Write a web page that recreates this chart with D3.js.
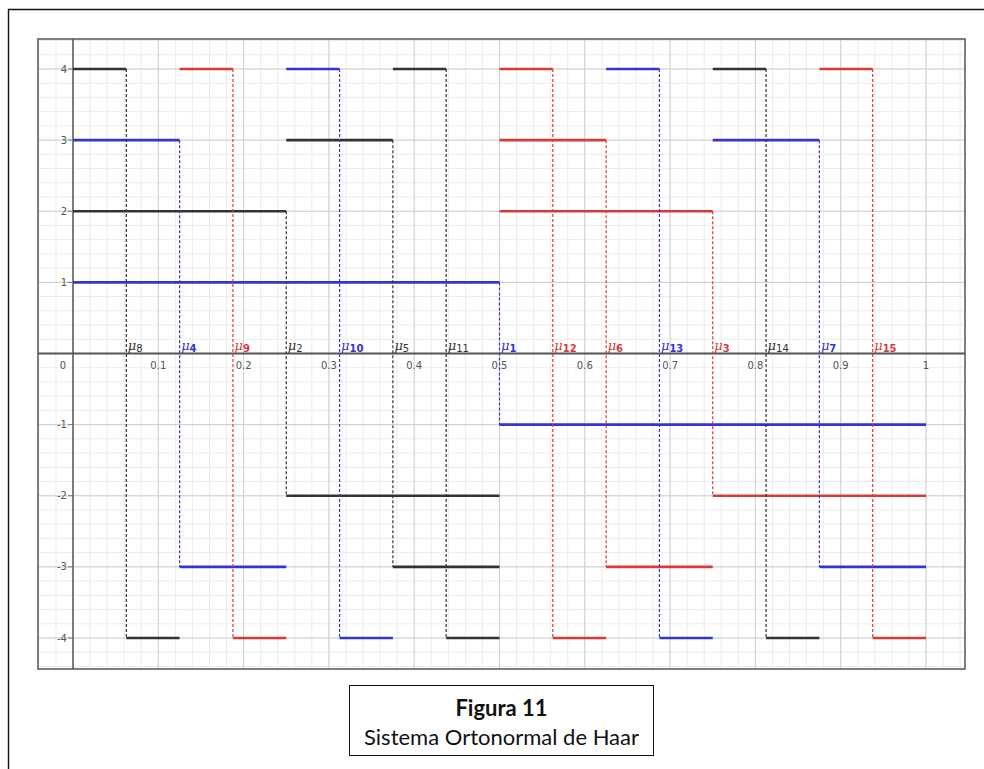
<!DOCTYPE html>
<html>
<head>
<meta charset="utf-8">
<script src="https://cdn.jsdelivr.net/npm/d3@7"></script>
<style>
  body { margin: 0; background: #fff; }
  svg { display: block; }
</style>
</head>
<body>
<svg id="chart" width="984" height="769"></svg>
<script>
/* Datos: funciones de Haar (indice, inicio, salto, fin, altura) */
const indices = [1, 2, 3, 4, 5, 6, 7, 8, 9, 10, 11, 12, 13, 14, 15];
const starts  = [0, 0, 0.5, 0, 0.25, 0.5, 0.75, 0, 0.125, 0.25, 0.375, 0.5, 0.625, 0.75, 0.875];
const jumps   = [0.5, 0.25, 0.75, 0.125, 0.375, 0.625, 0.875, 0.0625, 0.1875, 0.3125, 0.4375, 0.5625, 0.6875, 0.8125, 0.9375];
const ends    = [1, 0.5, 1, 0.25, 0.5, 0.75, 1, 0.125, 0.25, 0.375, 0.5, 0.625, 0.75, 0.875, 1];
const heights = [1, 2, 2, 3, 3, 3, 3, 4, 4, 4, 4, 4, 4, 4, 4];

const xTicks = [0, 0.1, 0.2, 0.3, 0.4, 0.5, 0.6, 0.7, 0.8, 0.9, 1];
const xTickLabels = ["0", "0.1", "0.2", "0.3", "0.4", "0.5", "0.6", "0.7", "0.8", "0.9", "1"];
const yTicks = [-4, -3, -2, -1, 1, 2, 3, 4];

// colores segun n mod 3
const palette = { 0: "#d83a3a", 1: "#3535cc", 2: "#333333" };

/* Tamaños */
const frame = { left: 38, top: 39, right: 965, bottom: 669 };

const x = d3.scaleLinear().domain([0, 1]).range([73, 926]);
const y = d3.scaleLinear().domain([-4, 4]).range([638, 69]);

const svg = d3.select("#chart");

// marco exterior
svg.append("path")
    .attr("d", "M8.5,769 L8.5,9.5 L984,9.5")
    .attr("fill", "none")
    .attr("stroke", "#111")
    .attr("stroke-width", 1.4);

const plot = svg.append("g");

plot.append("clipPath").attr("id", "clip")
    .append("rect")
    .attr("x", frame.left).attr("y", frame.top)
    .attr("width", frame.right - frame.left)
    .attr("height", frame.bottom - frame.top);

const grid = plot.append("g").attr("clip-path", "url(#clip)");

// grilla menor
const x0 = x.invert(frame.left), x1 = x.invert(frame.right);
const y0 = y.invert(frame.bottom), y1 = y.invert(frame.top);
const minorX = d3.range(Math.ceil(x0 / 0.02), Math.floor(x1 / 0.02) + 1).map(i => i * 0.02);
const minorY = d3.range(Math.ceil(y0 / 0.2), Math.floor(y1 / 0.2) + 1).map(i => i * 0.2);

grid.selectAll(".minx").data(minorX).enter().append("line")
    .attr("x1", d => x(d)).attr("x2", d => x(d))
    .attr("y1", frame.top).attr("y2", frame.bottom)
    .attr("stroke", "#ececec").attr("stroke-width", 1);
grid.selectAll(".miny").data(minorY).enter().append("line")
    .attr("y1", d => y(d)).attr("y2", d => y(d))
    .attr("x1", frame.left).attr("x2", frame.right)
    .attr("stroke", "#ececec").attr("stroke-width", 1);

// grilla mayor
grid.selectAll(".majx").data(xTicks.slice(1)).enter().append("line")
    .attr("x1", d => x(d)).attr("x2", d => x(d))
    .attr("y1", frame.top).attr("y2", frame.bottom)
    .attr("stroke", "#cfcfcf").attr("stroke-width", 1);
grid.selectAll(".majy").data(yTicks).enter().append("line")
    .attr("y1", d => y(d)).attr("y2", d => y(d))
    .attr("x1", frame.left).attr("x2", frame.right)
    .attr("stroke", "#cfcfcf").attr("stroke-width", 1);

// ejes
plot.append("line")
    .attr("x1", frame.left).attr("x2", frame.right)
    .attr("y1", y(0)).attr("y2", y(0))
    .attr("stroke", "#555").attr("stroke-width", 2);
plot.append("line")
    .attr("x1", x(0)).attr("x2", x(0))
    .attr("y1", frame.top).attr("y2", frame.bottom)
    .attr("stroke", "#555").attr("stroke-width", 1.5);

// ticks del eje y
plot.selectAll(".ytick").data(yTicks).enter().append("line")
    .attr("x1", x(0) - 5).attr("x2", x(0))
    .attr("y1", d => y(d)).attr("y2", d => y(d))
    .attr("stroke", "#777").attr("stroke-width", 1);

// etiquetas
plot.selectAll(".xlab").data(xTicks).enter().append("text")
    .attr("x", (d, i) => i === 0 ? x(d) - 10 : x(d))
    .attr("y", y(0) + 15)
    .attr("text-anchor", "middle")
    .attr("font-family", "DejaVu Sans, sans-serif")
    .attr("font-size", 10)
    .attr("fill", "#555")
    .text((d, i) => xTickLabels[i]);

plot.selectAll(".ylab").data(yTicks).enter().append("text")
    .attr("x", x(0) - 6)
    .attr("y", d => y(d) + 3.5)
    .attr("text-anchor", "end")
    .attr("font-family", "DejaVu Sans, sans-serif")
    .attr("font-size", 10)
    .attr("fill", "#555")
    .text(d => d);

// funciones de Haar
const haar = indices.map((n, i) => ({
    n, start: starts[i], jump: jumps[i], end: ends[i], h: heights[i],
    color: palette[n % 3]
}));

const fn = plot.append("g").selectAll("g").data(haar).enter().append("g");

fn.append("line")
    .attr("x1", d => x(d.jump)).attr("x2", d => x(d.jump))
    .attr("y1", d => y(d.h)).attr("y2", d => y(-d.h))
    .attr("stroke", d => d.color)
    .attr("stroke-width", 1.2)
    .attr("stroke-dasharray", "3,2");

fn.append("line")
    .attr("x1", d => x(d.start)).attr("x2", d => x(d.jump))
    .attr("y1", d => y(d.h)).attr("y2", d => y(d.h))
    .attr("stroke", d => d.color).attr("stroke-width", 2.6);

fn.append("line")
    .attr("x1", d => x(d.jump)).attr("x2", d => x(d.end))
    .attr("y1", d => y(-d.h)).attr("y2", d => y(-d.h))
    .attr("stroke", d => d.color).attr("stroke-width", 2.6);

const lab = fn.append("text")
    .attr("x", d => x(d.jump) + 1.5)
    .attr("y", y(0) - 4)
    .attr("font-family", "DejaVu Serif, serif")
    .attr("fill", d => d.color);
lab.append("tspan")
    .attr("font-style", "italic")
    .attr("font-size", 13)
    .text("μ");
lab.append("tspan")
    .attr("font-family", "DejaVu Sans, sans-serif")
    .attr("font-size", 10)
    .attr("font-weight", d => d.n % 3 === 2 ? "normal" : "bold")
    .attr("dy", 2)
    .text(d => d.n);

// marco del grafico
plot.append("rect")
    .attr("x", frame.left).attr("y", frame.top)
    .attr("width", frame.right - frame.left)
    .attr("height", frame.bottom - frame.top)
    .attr("fill", "none")
    .attr("stroke", "#555").attr("stroke-width", 1.5);

// leyenda de la figura
const cap = svg.append("g");
cap.append("rect")
    .attr("x", 349.5).attr("y", 685.5)
    .attr("width", 304).attr("height", 70)
    .attr("fill", "#fff").attr("stroke", "#111").attr("stroke-width", 1);
cap.append("text")
    .attr("x", 501.5).attr("y", 716)
    .attr("text-anchor", "middle")
    .attr("font-family", "Lato, sans-serif")
    .attr("font-weight", "bold")
    .attr("font-size", 22)
    .attr("fill", "#111")
    .text("Figura 11");
cap.append("text")
    .attr("x", 501.5).attr("y", 745)
    .attr("text-anchor", "middle")
    .attr("font-family", "Lato, sans-serif")
    .attr("font-size", 22)
    .attr("fill", "#111")
    .text("Sistema Ortonormal de Haar");
</script>
</body>
</html>
